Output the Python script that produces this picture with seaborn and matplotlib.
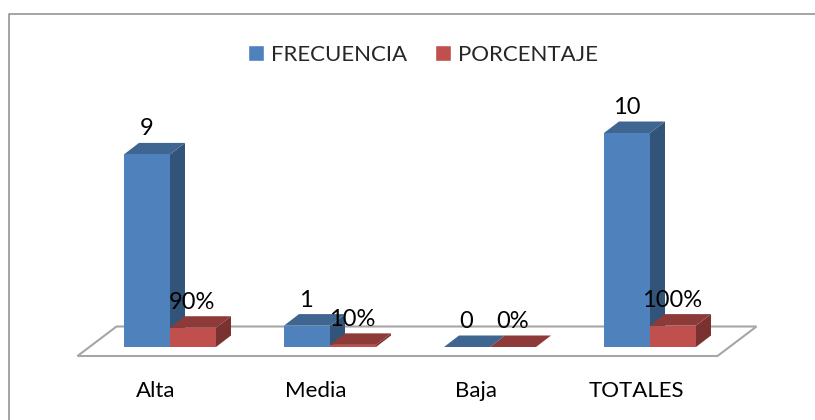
import matplotlib
matplotlib.use("Agg")
import matplotlib.pyplot as plt
from matplotlib.patches import Polygon, Rectangle
from matplotlib.lines import Line2D
import pandas as pd
import seaborn as sns

categories = ["Alta", "Media", "Baja", "TOTALES"]
frecuencia = [9, 1, 0, 10]
porcentaje = [0.9, 0.1, 0.0, 1.0]
pct_labels = ["90%", "10%", "0%", "100%"]
series_names = ["FRECUENCIA", "PORCENTAJE"]

W, H = 815, 420
sns.set_theme(style="white")
plt.rcParams["font.family"] = ["Lato", "DejaVu Sans"]
FS = 16
BLUE, BLUE_TOP, BLUE_SIDE = "#4F81BD", "#3F6591", "#325479"
RED, RED_TOP, RED_SIDE = "#C0504D", "#8E3A38", "#7A3230"
GREY = "#A6A6A6"

df = pd.DataFrame({
    "cat": categories * 2,
    "val": frecuencia + porcentaje,
    "serie": [series_names[0]] * 4 + [series_names[1]] * 4,
})

fig = plt.figure(figsize=(W / 100, H / 100), dpi=100, facecolor="white")
# outer chart frame: only the top and left edges are inside the picture
fig.add_artist(Line2D([8.5 / W, 8.5 / W, 1], [0, 1 - 14 / H, 1 - 14 / H], transform=fig.transFigure,
                      color="#8C8C8C", lw=1.1))

# axes: 160 px per category, 21.4 px per value unit, baseline at y=347
px_x0, px_x1, px_base, px_top = 90, 730, 347, 47
ax = fig.add_axes([px_x0 / W, 1 - px_base / H, (px_x1 - px_x0) / W, (px_base - px_top) / H])
sns.barplot(data=df, x="cat", y="val", hue="serie", order=categories, hue_order=series_names,
            palette=[BLUE, RED], width=92 / 160, gap=0, saturation=1, ax=ax, legend=False,
            edgecolor="none", linewidth=0, zorder=5)
ax.set_xlim(-0.5, 3.5)
ax.set_ylim(0, (px_base - px_top) / 21.4)
ax.patch.set_alpha(0)
sns.despine(ax=ax, left=True, bottom=True)
ax.set_xlabel("")
ax.set_ylabel("")
ax.set_yticks([])

ux, uy = 1 / 160, 1 / 21.4  # data units per pixel
dx, dy = 15 * ux, 11.5 * uy

# floor
fx0, fx1 = (77.5 - 90) * ux - 0.5, (717.5 - 90) * ux - 0.5
fy = -9 * uy
ax.add_patch(Polygon([(fx0, fy), (fx1, fy), (fx1 + 39 * ux, fy + 29.5 * uy), (fx0 + 39 * ux, fy + 29.5 * uy)],
                     closed=True, fc="white", ec=GREY, lw=1.5, clip_on=False, zorder=1))

bars = [p for p in ax.patches if isinstance(p, Rectangle)]
bars = [b for b in bars if b.get_width() > 0][:8]
blue_bars, red_bars = bars[:4], bars[4:8]

for i, group in enumerate(zip(blue_bars, red_bars)):
    for j, (b, top_c, side_c) in enumerate(zip(group, (BLUE_TOP, RED_TOP), (BLUE_SIDE, RED_SIDE))):
        z = 5 + i * 3 + j * 3
        x0, w, h = b.get_x(), b.get_width(), b.get_height()
        x1 = x0 + w
        b.set_zorder(z + 2)
        b.set_clip_on(False)
        ax.add_patch(Polygon([(x1, 0), (x1 + dx, dy), (x1 + dx, h + dy), (x1, h)], closed=True,
                             fc=side_c, ec="none", clip_on=False, zorder=z))
        ax.add_patch(Polygon([(x0, h), (x0 + dx, h + dy), (x1 + dx, h + dy), (x1, h)], closed=True,
                             fc=top_c, ec="none", clip_on=False, zorder=z + 1))

# value labels
for b, txt in zip(blue_bars + red_bars, [str(v) for v in frecuencia] + pct_labels):
    ax.annotate(txt, (b.get_x() + b.get_width() / 2, b.get_height()), xytext=(-0.5, 25.5 * 0.72),
                textcoords="offset points", ha="center", va="center", fontsize=17, color="black",
                zorder=40, annotation_clip=False)

# tick labels, centred on the floor's front edge
ax.set_xticks([i - 14 * ux for i in range(len(categories))])
ax.set_xticklabels(categories, fontsize=FS, color="black")
ax.tick_params(axis="x", length=0, pad=(391 - 347 - 10) * 0.72)

# legend
handles = [Rectangle((0, 0), 1, 1, fc=BLUE), Rectangle((0, 0), 1, 1, fc=RED)]
fig.legend(handles, series_names, loc="center", bbox_to_anchor=(423 / W, 1 - 55 / H), ncol=2,
           frameon=False, fontsize=FS, handlelength=0.72, handleheight=0.72, handletextpad=0.32,
           columnspacing=1.25, borderpad=0, borderaxespad=0)

fig.savefig("out.png", dpi=100, facecolor="white")
